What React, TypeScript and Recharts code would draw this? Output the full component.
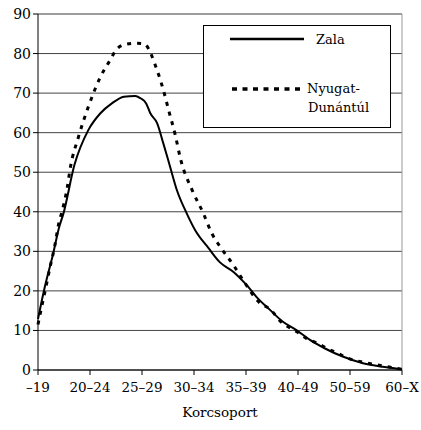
import React from "react";
import { LineChart, Line, XAxis, YAxis, CartesianGrid, ReferenceLine, Legend } from "recharts";

const categories = ["–19", "20–24", "25–29", "30–34", "35–39", "40–49", "50–59", "60–X"];
const yTicks = [0, 10, 20, 30, 40, 50, 60, 70, 80, 90];

const zalaPos = [0, 0.11, 0.3, 0.4, 0.49, 0.7, 0.97, 1.2, 1.42, 1.65, 1.87, 1.97, 2.08, 2.16, 2.29, 2.41, 2.54, 2.67, 2.86, 3.02, 3.28, 3.5, 3.76, 4.01, 4.2, 4.46, 4.71, 4.97, 5.23, 5.51, 5.86, 6.25, 6.63, 7];
const zalaVal = [12.9, 19.8, 29.9, 35.8, 39.6, 51.8, 60.7, 64.9, 67.4, 69.1, 69.3, 68.7, 67.4, 64.9, 62.4, 57.3, 51.4, 45.5, 39.6, 35.4, 30.8, 27.2, 24.8, 21.5, 18.5, 15.2, 12.2, 10.1, 7.6, 5.5, 3.4, 1.7, 0.8, 0.2];

const nyugatPos = [0, 0.05, 0.14, 0.24, 0.32, 0.4, 0.46, 0.56, 0.62, 0.78, 0.97, 1.2, 1.39, 1.49, 1.65, 1.87, 2.03, 2.29, 2.41, 2.52, 2.64, 2.74, 2.97, 3.18, 3.34, 3.5, 3.76, 3.92, 4.27, 4.46, 4.68, 4.88, 5.0, 5.16, 5.39, 5.55, 5.77, 5.96, 6.28, 6.51, 6.73, 7];
const nyugatVal = [11.5, 14.7, 20.2, 26.5, 31.2, 37.1, 40, 45.9, 51, 59, 66.6, 74.1, 78.4, 80.7, 82.2, 82.6, 82.5, 75.8, 70.8, 65.3, 59.4, 53.4, 45.3, 39.6, 34.6, 31.2, 26.5, 23.2, 16.9, 15.4, 12.1, 10.4, 9.5, 8, 6.7, 5.5, 4.2, 3, 1.9, 1.3, 0.8, 0.2];

const zalaData = zalaPos.map((x, i) => ({ x, v: zalaVal[i] }));
const nyugatData = nyugatPos.map((x, i) => ({ x, v: nyugatVal[i] }));

const font = "'DejaVu Serif', serif";
const textStyle = { fontFamily: font };

const LegendBox = () => (
  <svg width={188} height={103} style={{ display: "block", fontFamily: font }}>
    <rect x={0.5} y={0.5} width={187} height={102} fill="#fff" stroke="#000" strokeWidth={1} />
    <line x1={27} y1={14} x2={101} y2={14} stroke="#000" strokeWidth={2.5} />
    <text x={113} y={18.5} style={textStyle} fontSize={13} fill="#000">Zala</text>
    <line x1={29} y1={64} x2={102} y2={64} stroke="#000" strokeWidth={3.5} strokeDasharray="5 5.5" />
    <text x={104} y={68} style={textStyle} fontSize={13} fill="#000">Nyugat-</text>
    <text x={105} y={87} style={textStyle} fontSize={13} fill="#000">Dunántúl</text>
  </svg>
);

export default function App() {
  return (
    <div style={{ position: "absolute", left: 0, top: 0, background: "#fff", fontFamily: font }}>
      <LineChart width={421} height={430} margin={{ top: 14, right: 19, bottom: 0, left: 8 }} style={{ fontFamily: font }}>
        <CartesianGrid vertical={false} stroke="#444" />
        <XAxis
          dataKey="x"
          type="number"
          domain={[0, 7]}
          ticks={[0, 1, 2, 3, 4, 5, 6, 7]}
          tickFormatter={(v: number) => categories[v]}
          height={60}
          stroke="#000"
          tickSize={5}
          tickMargin={7}
          tick={{ fill: "#000", fontSize: 13.5, style: textStyle }}
          label={{ value: "Korcsoport", position: "insideBottom", offset: 13, fill: "#000", fontSize: 13.5, style: textStyle }}
        />
        <YAxis
          type="number"
          domain={[0, 90]}
          ticks={yTicks}
          width={30}
          stroke="#000"
          tickSize={5}
          tickMargin={2}
          tick={{ fill: "#000", fontSize: 14, style: textStyle }}
        />
        <ReferenceLine y={90} stroke="#999" />
        <ReferenceLine x={7} stroke="#999" />
        <Legend
          layout="horizontal"
          verticalAlign="middle"
          align="center"
          content={() => <LegendBox />}
          wrapperStyle={{ position: "absolute", left: 203, top: 25, width: 188, height: 103 }}
        />
        <Line data={nyugatData} dataKey="v" type="monotone" stroke="#000" strokeWidth={3} strokeDasharray="4 6" dot={false} isAnimationActive={false} legendType="none" />
        <Line data={zalaData} dataKey="v" type="monotone" stroke="#000" strokeWidth={2} dot={false} isAnimationActive={false} legendType="none" />
      </LineChart>
    </div>
  );
}
